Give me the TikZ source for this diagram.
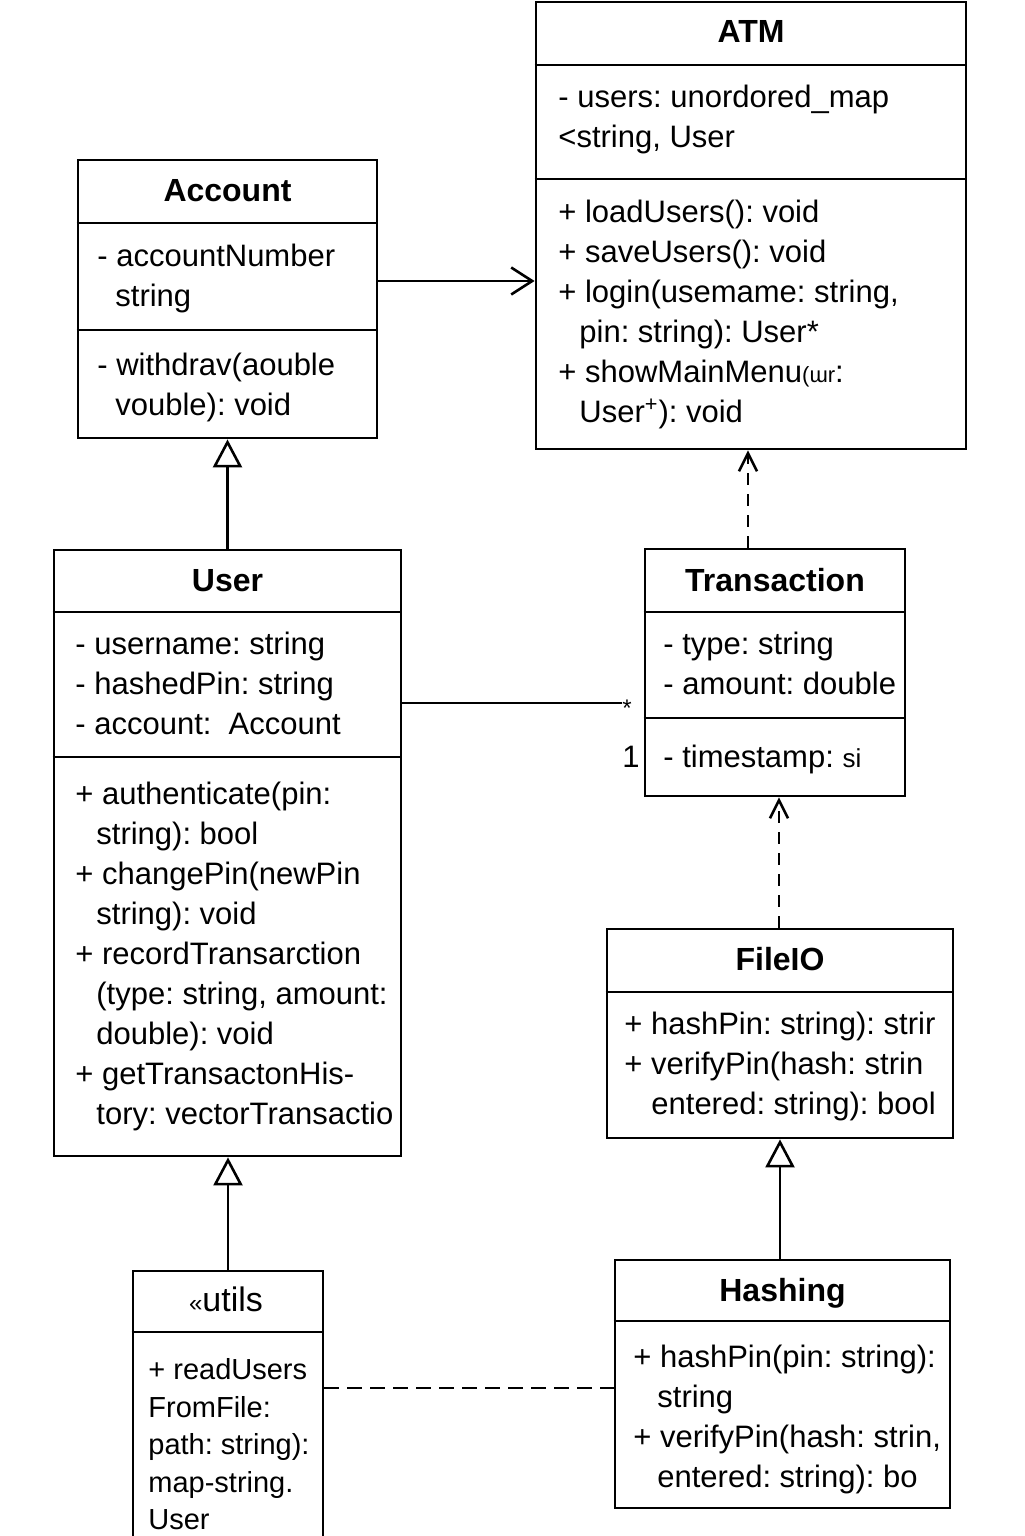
\documentclass[tikz,border=0pt]{standalone}
\usepackage{fontspec}
\setmainfont{Liberation Sans}
\usetikzlibrary{arrows.meta}
\newcommand{\ind}{\hspace*{10.5pt}}
\frenchspacing
\begin{document}
\begin{tikzpicture}[x=0.5pt,y=-0.5pt,
	cls/.style={draw,line width=1.4pt,inner sep=0pt},
	ttl/.style={anchor=base,inner sep=0pt,font=\bfseries\fontsize{16}{20}\selectfont},
	mem/.style={anchor=north west,inner sep=0pt,align=left,font=\fontsize{15.5}{20}\selectfont},
	sep/.style={line width=1.4pt},
	assoc/.style={line width=1.3pt,-{Straight Barb[length=10.5pt,width=13.5pt]}},
	dep/.style={line width=1.3pt,dash pattern=on 6pt off 4.5pt,-{Straight Barb[length=9pt,width=9pt]}},
	inherit/.style={line width=1.3pt,-{Triangle[open,length=14pt,width=14.5pt,fill=white]}},
	link/.style={line width=1.2pt,dash pattern=on 7.5pt off 4pt}]
\useasboundingbox (0,0) rectangle (1024,1536);
\node[cls,minimum width=215pt,minimum height=223.5pt] (atm) at (751,225.5) {};
\node[ttl] (atm-t) at (751,43) {ATM};
\draw[sep] (atm.west |- 0,65) -- (atm.east |- 0,65);
\draw[sep] (atm.west |- 0,179) -- (atm.east |- 0,179);
\node[mem] (atm-a) at (558,79) {\strut- users: unordored\_map\\<string, User};
\node[mem] (atm-o) at (558,194) {\strut+ loadUsers(): void\\+ saveUsers(): void\\+ login(usemame: string,\\\ind pin: string): User*\\+ showMainMenu{\fontsize{11}{20}\selectfont(ɯr}:\\\ind User\textsuperscript{+}): void};
\node[cls,minimum width=149.5pt,minimum height=139pt] (acc) at (227.5,299) {};
\node[ttl] (acc-t) at (227.5,201) {Account};
\draw[sep] (acc.west |- 0,223) -- (acc.east |- 0,223);
\draw[sep] (acc.west |- 0,330) -- (acc.east |- 0,330);
\node[mem] (acc-a) at (97,238) {\strut- accountNumber\\\hspace*{9pt}string};
\node[mem] (acc-o) at (97,347) {\strut- withdrav(aouble\\\hspace*{9pt}vouble): void};
\node[cls,minimum width=173.5pt,minimum height=303pt] (usr) at (227.5,853) {};
\node[ttl] (usr-t) at (227.5,591) {User};
\draw[sep] (usr.west |- 0,612) -- (usr.east |- 0,612);
\draw[sep] (usr.west |- 0,757) -- (usr.east |- 0,757);
\node[mem] (usr-a) at (75,626) {\strut- username: string\\- hashedPin: string\\- account:\ \ Account};
\node[mem] (usr-o) at (75,776) {\strut+ authenticate(pin:\\\ind string): bool\\+ changePin(newPin\\\ind string): void\\+ recordTransarction\\\ind (type: string, amount:\\\ind double): void\\+ getTransactonHis-\\\ind tory: vectorTransactio};
\node[cls,minimum width=130pt,minimum height=123.5pt] (trn) at (775,672.5) {};
\node[ttl] (trn-t) at (775,591) {Transaction};
\draw[sep] (trn.west |- 0,612) -- (trn.east |- 0,612);
\draw[sep] (trn.west |- 0,718) -- (trn.east |- 0,718);
\node[mem] (trn-a) at (663,626) {\strut- type: string\\- amount: double};
\node[mem] (trn-o) at (663,739) {\strut- timestamp: {\fontsize{13}{20}\selectfont si}};
\node[cls,minimum width=173pt,minimum height=104.5pt] (fio) at (780,1033.5) {};
\node[ttl] (fio-t) at (780,970) {FileIO};
\draw[sep] (fio.west |- 0,992) -- (fio.east |- 0,992);
\node[mem] (fio-o) at (624,1006) {\strut+ hashPin: string): strir\\+ verifyPin(hash: strin\\\hspace*{13.5pt}entered: string): bool};
\node[cls,minimum width=167.5pt,minimum height=124pt] (hsh) at (782.5,1384) {};
\node[ttl] (hsh-t) at (782.5,1301) {Hashing};
\draw[sep] (hsh.west |- 0,1321) -- (hsh.east |- 0,1321);
\node[mem] (hsh-o) at (633,1339) {\strut+ hashPin(pin: string):\\\hspace*{12pt}string\\+ verifyPin(hash: strin,\\\hspace*{12pt}entered: string): bo};
\node[cls,minimum width=95pt,minimum height=144.5pt] (utl) at (228,1415.5) {};
\node[anchor=base,inner sep=0pt,font=\fontsize{17}{20}\selectfont] (utl-t) at (226,1311) {{\fontsize{12}{12}\selectfont«}utils};
\draw[sep] (utl.west |- 0,1332) -- (utl.east |- 0,1332);
\node[mem,font=\fontsize{14.5}{18.75}\selectfont] (utl-o) at (148,1353) {\strut+ readUsers\\FromFile:\\path: string):\\map-string.\\User};
\node[inner sep=0pt,font=\fontsize{12}{12}\selectfont] (many) at (627,708) {*};
\node[inner sep=0pt,font=\fontsize{15.5}{20}\selectfont] (one) at (631,757) {1};
\draw[assoc] (acc.east |- 0,281) -- (atm.west |- 0,281);
\draw[inherit] (usr.north) -- (acc.south);
\draw[line width=1.3pt] (usr.east |- 0,703) -- (many.west |- 0,703);
\draw[dep] (trn.north -| 748,0) -- (atm.south -| 748,0);
\draw[dep] (fio.north -| 779,0) -- (trn.south -| 779,0);
\draw[inherit] (hsh.north -| 780,0) -- (fio.south -| 780,0);
\draw[inherit] (utl.north) -- (usr.south -| utl.north);
\draw[link] (utl.east |- 0,1388) -- (hsh.west |- 0,1388);
\end{tikzpicture}
\end{document}
